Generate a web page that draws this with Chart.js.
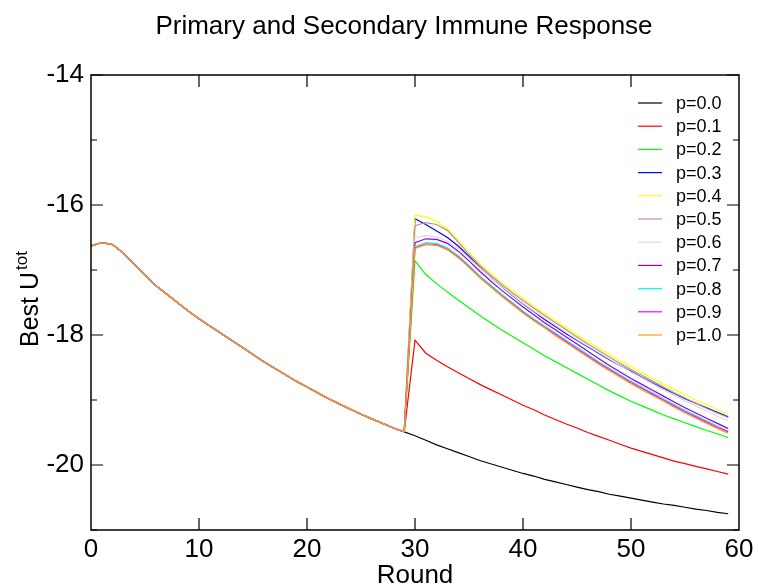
<!DOCTYPE html>
<html>
<head>
<meta charset="utf-8">
<title>Primary and Secondary Immune Response</title>
<script src="https://cdn.jsdelivr.net/npm/chart.js"></script>
<style>
  html, body { margin: 0; padding: 0; background: #fff; }
  #wrap { width: 758px; height: 587px; }
</style>
</head>
<body>
<div id="wrap"><canvas id="chart"></canvas></div>
<script>
// rounds 0..59
const rounds = [];
for (let r = 0; r < 60; r++) rounds.push(r);

// primary response, same for every p (rounds 0..29)
const primary = [
  -16.63, -16.58, -16.61, -16.74, -16.91, -17.08, -17.24, -17.37, -17.50, -17.63,
  -17.75, -17.86, -17.97, -18.08, -18.19, -18.30, -18.41, -18.51, -18.61, -18.71,
  -18.80, -18.89, -18.98, -19.06, -19.14, -19.22, -19.29, -19.36, -19.43, -19.49
];

// secondary response (rounds 30..59)
const p00 = [
  -19.55, -19.62, -19.69, -19.75, -19.81, -19.87, -19.93, -19.98, -20.03, -20.08,
  -20.13, -20.17, -20.22, -20.26, -20.30, -20.34, -20.38, -20.41, -20.45, -20.48,
  -20.51, -20.54, -20.57, -20.60, -20.62, -20.65, -20.68, -20.70, -20.73, -20.75
];
const p01 = [
  -18.08, -18.28, -18.39, -18.49, -18.58, -18.67, -18.76, -18.84, -18.92, -19.00,
  -19.08, -19.15, -19.23, -19.30, -19.37, -19.43, -19.50, -19.56, -19.62, -19.68,
  -19.74, -19.79, -19.84, -19.89, -19.94, -19.98, -20.02, -20.06, -20.10, -20.14
];
const p02 = [
  -16.86, -17.07, -17.21, -17.34, -17.46, -17.58, -17.70, -17.81, -17.92, -18.02,
  -18.12, -18.22, -18.32, -18.41, -18.50, -18.59, -18.68, -18.77, -18.86, -18.94,
  -19.02, -19.09, -19.16, -19.23, -19.29, -19.35, -19.41, -19.47, -19.52, -19.58
];
const p03 = [
  -16.21, -16.30, -16.40, -16.50, -16.63, -16.79, -16.96, -17.11, -17.25, -17.39,
  -17.52, -17.64, -17.76, -17.87, -17.98, -18.08, -18.18, -18.28, -18.38, -18.47,
  -18.56, -18.65, -18.74, -18.82, -18.90, -18.98, -19.05, -19.12, -19.19, -19.26
];
const p04 = [
  -16.16, -16.18, -16.25, -16.37, -16.55, -16.73, -16.90, -17.05, -17.19, -17.32,
  -17.44, -17.56, -17.67, -17.78, -17.89, -18.00, -18.10, -18.20, -18.30, -18.40,
  -18.49, -18.58, -18.67, -18.76, -18.84, -18.92, -19.00, -19.07, -19.15, -19.22
];
const p05 = [
  -16.32, -16.27, -16.30, -16.39, -16.57, -16.76, -16.93, -17.08, -17.22, -17.35,
  -17.47, -17.59, -17.70, -17.81, -17.92, -18.03, -18.14, -18.24, -18.34, -18.44,
  -18.53, -18.62, -18.71, -18.80, -18.89, -18.97, -19.05, -19.13, -19.20, -19.27
];
const p06 = [
  -16.50, -16.47, -16.49, -16.56, -16.67, -16.82, -16.97, -17.11, -17.25, -17.38,
  -17.51, -17.63, -17.74, -17.85, -17.96, -18.07, -18.17, -18.27, -18.37, -18.47,
  -18.57, -18.66, -18.75, -18.84, -18.93, -19.01, -19.09, -19.17, -19.25, -19.32
];
const p07 = [
  -16.58, -16.52, -16.53, -16.59, -16.71, -16.86, -17.02, -17.17, -17.31, -17.44,
  -17.57, -17.69, -17.81, -17.92, -18.03, -18.14, -18.25, -18.36, -18.47, -18.57,
  -18.67, -18.76, -18.85, -18.94, -19.03, -19.12, -19.20, -19.28, -19.36, -19.44
];
const p08 = [
  -16.64, -16.58, -16.59, -16.66, -16.78, -16.93, -17.09, -17.23, -17.37, -17.50,
  -17.63, -17.75, -17.86, -17.97, -18.08, -18.19, -18.30, -18.41, -18.51, -18.61,
  -18.71, -18.80, -18.89, -18.98, -19.07, -19.16, -19.24, -19.32, -19.40, -19.48
];
const p09 = [
  -16.66, -16.60, -16.61, -16.68, -16.80, -16.95, -17.11, -17.25, -17.39, -17.52,
  -17.65, -17.77, -17.88, -17.99, -18.10, -18.21, -18.32, -18.43, -18.53, -18.63,
  -18.73, -18.82, -18.91, -19.00, -19.09, -19.18, -19.26, -19.34, -19.42, -19.49
];
const p10 = [
  -16.67, -16.61, -16.62, -16.69, -16.81, -16.96, -17.12, -17.26, -17.40, -17.53,
  -17.66, -17.78, -17.89, -18.01, -18.12, -18.23, -18.34, -18.45, -18.55, -18.65,
  -18.75, -18.84, -18.93, -19.02, -19.11, -19.20, -19.28, -19.36, -19.44, -19.51
];

const labels = ['p=0.0', 'p=0.1', 'p=0.2', 'p=0.3', 'p=0.4', 'p=0.5',
                'p=0.6', 'p=0.7', 'p=0.8', 'p=0.9', 'p=1.0'];
const secondary = [p00, p01, p02, p03, p04, p05, p06, p07, p08, p09, p10];
const colors = ['#000000', '#ff0000', '#00ff00', '#0000ff', '#ffff00', '#bc8f8f',
                '#dcdcdc', '#9400d3', '#00ffff', '#ff00ff', '#ffa500'];

const xTicks = [0, 10, 20, 30, 40, 50, 60];
const yTicks = [-20, -18, -16, -14];
const yMinor = [-21, -19, -17, -15];

const FONT = '"Liberation Sans", Arial, Helvetica, sans-serif';

const datasets = secondary.map((sec, i) => {
  const vals = primary.concat(sec);
  return {
    label: labels[i],
    data: rounds.map((r, k) => ({ x: r, y: vals[k] })),
    borderColor: colors[i],
    borderWidth: 1.2,
    pointRadius: 0,
    tension: 0,
    fill: false,
    order: secondary.length - i // p=1.0 ends up on top
  };
});

// frame, inward ticks, legend and text
const decor = {
  id: 'decor',
  afterDraw(chart) {
    const ctx = chart.ctx;
    const a = chart.chartArea;
    const xs = chart.scales.x;
    const ys = chart.scales.y;
    ctx.save();

    ctx.strokeStyle = '#000';
    ctx.lineWidth = 1.5;
    ctx.strokeRect(a.left, a.top, a.right - a.left, a.bottom - a.top);

    ctx.lineWidth = 1.2;
    ctx.beginPath();
    xTicks.slice(1, -1).forEach(v => {
      const px = xs.getPixelForValue(v);
      ctx.moveTo(px, a.bottom); ctx.lineTo(px, a.bottom - 12);
      ctx.moveTo(px, a.top); ctx.lineTo(px, a.top + 12);
    });
    yTicks.forEach(v => {
      const py = ys.getPixelForValue(v);
      ctx.moveTo(a.left, py); ctx.lineTo(a.left + 12, py);
      ctx.moveTo(a.right, py); ctx.lineTo(a.right - 12, py);
    });
    yMinor.forEach(v => {
      const py = ys.getPixelForValue(v);
      ctx.moveTo(a.left, py); ctx.lineTo(a.left + 6, py);
      ctx.moveTo(a.right, py); ctx.lineTo(a.right - 6, py);
    });
    ctx.stroke();

    // legend
    ctx.font = '18px ' + FONT;
    ctx.textBaseline = 'middle';
    ctx.textAlign = 'left';
    chart.data.datasets.forEach((ds, i) => {
      const y = a.top + 28 + i * 23.2;
      ctx.strokeStyle = ds.borderColor;
      ctx.lineWidth = 1.2;
      ctx.beginPath();
      ctx.moveTo(a.right - 101, y);
      ctx.lineTo(a.right - 77, y);
      ctx.stroke();
      ctx.fillStyle = '#000';
      ctx.fillText(ds.label, a.right - 63, y + 1);
    });

    // title
    ctx.fillStyle = '#000';
    ctx.textBaseline = 'alphabetic';
    ctx.textAlign = 'center';
    ctx.font = '26px ' + FONT;
    ctx.fillText('Primary and Secondary Immune Response', 404, 34);

    // x title
    ctx.font = '26px ' + FONT;
    ctx.fillText('Round', (a.left + a.right) / 2, 583);

    // y title with superscript
    ctx.translate(38, 347);
    ctx.rotate(-Math.PI / 2);
    ctx.textAlign = 'left';
    ctx.font = '25px ' + FONT;
    ctx.fillText('Best U', 0, 0);
    const w = ctx.measureText('Best U').width;
    ctx.font = '17px ' + FONT;
    ctx.fillText('tot', w + 2, -11);

    ctx.restore();
  }
};

new Chart(document.getElementById('chart'), {
  type: 'line',
  data: { datasets },
  options: {
    responsive: true,
    maintainAspectRatio: false,
    animation: false,
    layout: { padding: { left: 0, right: 19, top: 75, bottom: 0 } },
    plugins: {
      legend: { display: false },
      title: { display: false },
      tooltip: { enabled: false }
    },
    scales: {
      x: {
        type: 'linear',
        min: 0,
        max: 60,
        afterFit: s => { s.height = 57; },
        afterBuildTicks: s => { s.ticks = xTicks.map(v => ({ value: v })); },
        grid: { display: false, drawTicks: false },
        border: { display: false },
        ticks: {
          color: '#000',
          padding: 4,
          maxRotation: 0,
          font: { family: FONT, size: 26 }
        }
      },
      y: {
        type: 'linear',
        min: -21,
        max: -14,
        afterFit: s => { s.width = 91; },
        afterBuildTicks: s => { s.ticks = yTicks.map(v => ({ value: v })); },
        grid: { display: false, drawTicks: false },
        border: { display: false },
        ticks: {
          color: '#000',
          padding: 7,
          font: { family: FONT, size: 26 }
        }
      }
    }
  },
  plugins: [decor]
});
</script>
</body>
</html>
